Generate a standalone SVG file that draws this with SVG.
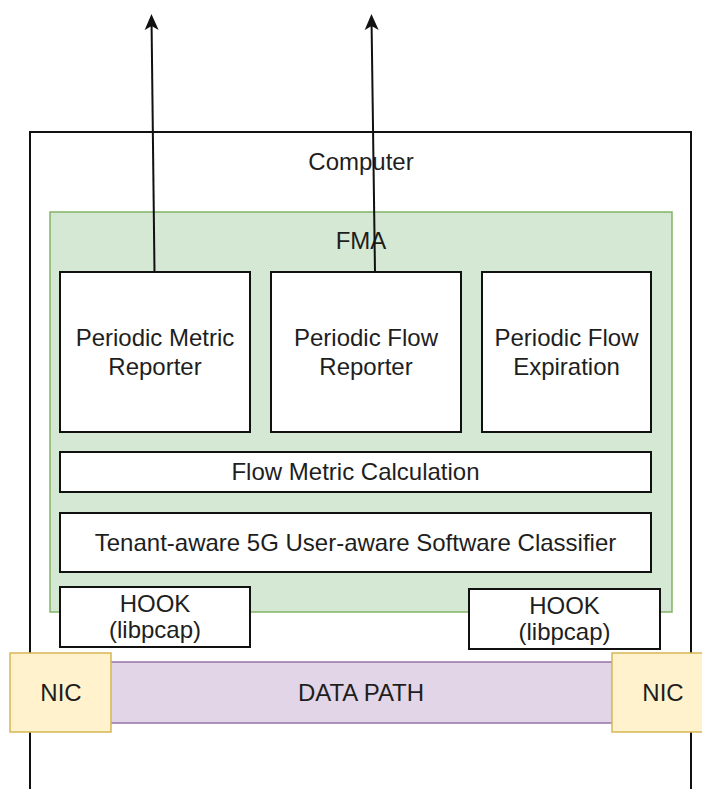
<svg xmlns="http://www.w3.org/2000/svg" width="702" height="789" viewBox="0 0 702 789">
  <style>
    text { font-family: "Liberation Sans", Arial, Helvetica, sans-serif; font-size: 24px; fill: #1e1e1e; text-anchor: middle; }
    .box { fill: #ffffff; stroke: #111111; stroke-width: 2; }
    .computer { fill: #ffffff; stroke: #111111; stroke-width: 2; }
    .fma { fill: #d5e8d4; stroke: #82b366; stroke-width: 1.5; }
    .nic { fill: #fff2cc; stroke: #d6b656; stroke-width: 1.5; }
    .path { fill: #e1d5e7; stroke: #9673a6; stroke-width: 1.5; }
    .link { fill: none; stroke: #111111; stroke-width: 2; }
  </style>
  <defs>
    <marker id="arrow" markerUnits="userSpaceOnUse" viewBox="0 0 16 16" refX="12" refY="8" markerWidth="16" markerHeight="16" orient="auto">
      <path d="M0,1 L16,8 L0,15 L4,8 Z" fill="#111111"/>
    </marker>
  </defs>

  <rect width="702" height="789" fill="#ffffff"/>

  <g id="computer">
    <rect class="computer" x="30" y="132" width="661" height="680"/>
    <text x="361" y="170">Computer</text>
  </g>

  <g id="fma">
    <rect class="fma" x="50" y="212" width="622" height="400"/>
    <text x="361" y="249">FMA</text>
  </g>

  <g id="periodic-metric-reporter">
    <rect class="box" x="60" y="272" width="190" height="160"/>
    <text x="155" y="346">Periodic Metric</text>
    <text x="155" y="375">Reporter</text>
  </g>

  <g id="periodic-flow-reporter">
    <rect class="box" x="271" y="272" width="190" height="160"/>
    <text x="366" y="346">Periodic Flow</text>
    <text x="366" y="375">Reporter</text>
  </g>

  <g id="periodic-flow-expiration">
    <rect class="box" x="482" y="272" width="169" height="160"/>
    <text x="566.5" y="346">Periodic Flow</text>
    <text x="566.5" y="375">Expiration</text>
  </g>

  <g id="flow-metric-calculation">
    <rect class="box" x="60" y="452" width="591" height="40"/>
    <text x="355.5" y="480">Flow Metric Calculation</text>
  </g>

  <g id="classifier">
    <rect class="box" x="60" y="513" width="591" height="59"/>
    <text x="355.5" y="551">Tenant-aware 5G User-aware Software Classifier</text>
  </g>

  <g id="hook-left">
    <rect class="box" x="60" y="587" width="190" height="60"/>
    <text x="155" y="612">HOOK</text>
    <text x="155" y="638">(libpcap)</text>
  </g>

  <g id="hook-right">
    <rect class="box" x="469" y="589" width="191" height="60"/>
    <text x="564.5" y="614">HOOK</text>
    <text x="564.5" y="640">(libpcap)</text>
  </g>

  <g id="data-path">
    <rect class="path" x="105" y="662" width="512" height="61"/>
    <text x="361" y="701">DATA PATH</text>
  </g>

  <g id="nic-left">
    <rect class="nic" x="10" y="653" width="101" height="79"/>
    <text x="61" y="701">NIC</text>
  </g>

  <g id="nic-right">
    <rect class="nic" x="612" y="653" width="101" height="79"/>
    <text x="663" y="701">NIC</text>
  </g>

  <g id="connectors">
    <line class="link" x1="154.5" y1="272" x2="151.5" y2="18" marker-end="url(#arrow)"/>
    <line class="link" x1="375" y1="272" x2="371.5" y2="18" marker-end="url(#arrow)"/>
  </g>
</svg>
